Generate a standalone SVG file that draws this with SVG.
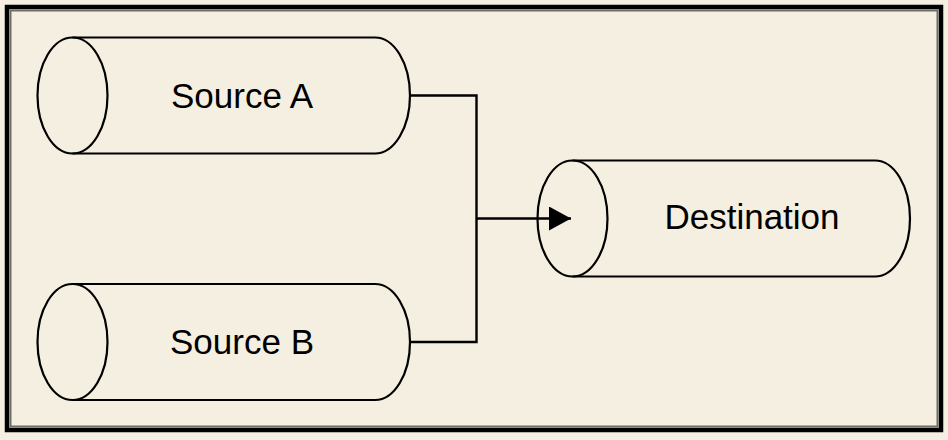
<svg xmlns="http://www.w3.org/2000/svg" width="948" height="440" viewBox="0 0 948 440">
<style>
.cyl{fill:none;stroke:#000;stroke-width:2.2}
.lbl{font-family:"Liberation Sans",Arial,sans-serif;font-size:35px;fill:#000;text-anchor:middle}
.con{fill:none;stroke:#000;stroke-width:2.4}
</style>
<defs>
<marker id="arr" markerWidth="24" markerHeight="26" refX="22" refY="12" orient="auto" markerUnits="userSpaceOnUse">
<path d="M0,0 L22,12 L0,24 Z" fill="#000"/>
</marker>
</defs>
<rect x="0" y="0" width="948" height="440" fill="#f4efe0"/>
<rect x="7" y="7" width="934" height="423" fill="none" stroke="#000" stroke-width="4.5"/>
<rect x="10.5" y="10.5" width="927" height="416" fill="none" stroke="#6e6e66" stroke-width="2"/>
<g id="sourceA">
<ellipse class="cyl" cx="72.5" cy="95.5" rx="35" ry="58"/>
<path class="cyl" d="M72.5,37.5 L375,37.5 A35,58 0 0 1 375,153.5 L72.5,153.5"/>
<text class="lbl" x="242" y="108">Source A</text>
</g>
<g id="sourceB">
<ellipse class="cyl" cx="72.5" cy="342" rx="35" ry="58"/>
<path class="cyl" d="M72.5,284 L375,284 A35,58 0 0 1 375,400 L72.5,400"/>
<text class="lbl" x="242" y="354">Source B</text>
</g>
<g id="destination">
<ellipse class="cyl" cx="572.5" cy="218.5" rx="35" ry="58"/>
<path class="cyl" d="M572.5,160.5 L875,160.5 A35,58 0 0 1 875,276.5 L572.5,276.5"/>
<text class="lbl" x="752" y="229">Destination</text>
</g>
<g id="connectors">
<path class="con" d="M410,95.5 L476.5,95.5 L476.5,342 L410,342"/>
<path class="con" d="M476.5,218.5 L571,218.5" marker-end="url(#arr)"/>
</g>
</svg>
